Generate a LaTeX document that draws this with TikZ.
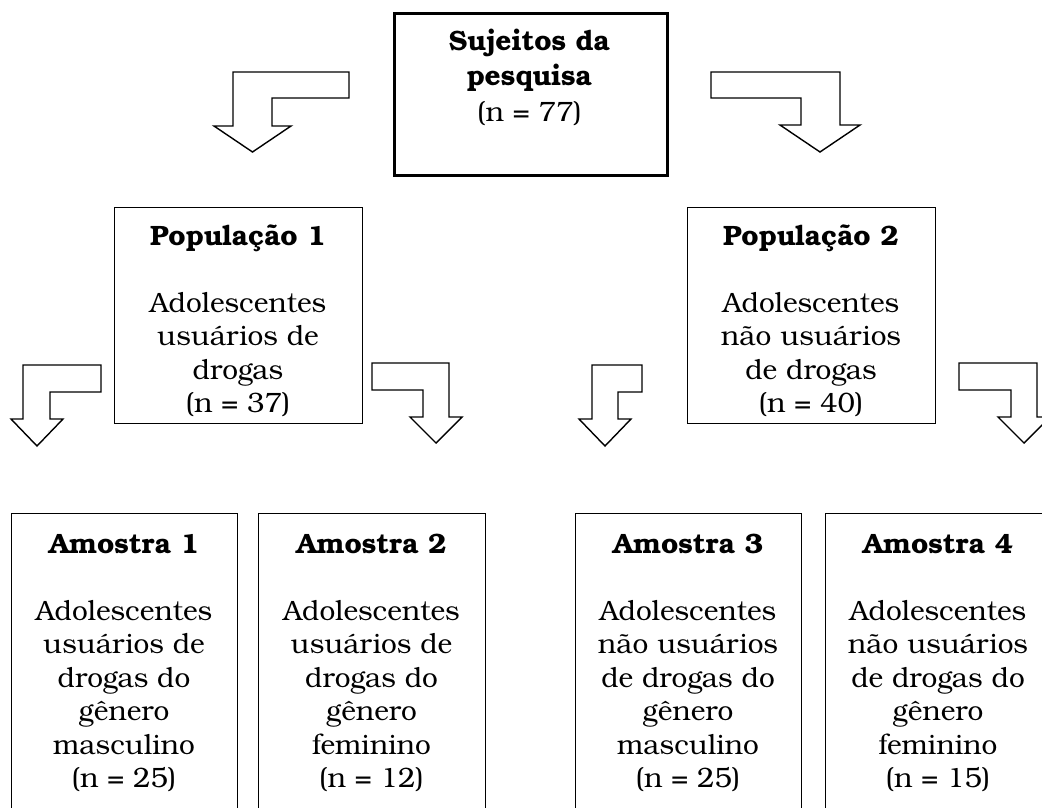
\documentclass[tikz,border=0pt]{standalone}
\usepackage{fontspec}
\setmainfont{TeX Gyre Bonum}
\newcommand\blk[1]{\parbox[t]{240pt}{\centering #1}}
\begin{document}
\begin{tikzpicture}[x=1pt,y=-1pt,
  box/.style={draw, line width=1.4pt, inner sep=0pt, anchor=north west},
  txt/.style={inner sep=0pt, anchor=base, font=\fontsize{28}{33.5}\selectfont},
  bent/.style={draw, line width=1.4pt, fill=white, line join=miter}]
\useasboundingbox (0,0) rectangle (1042,807);
\clip (0,0) rectangle (1042,807);

% top box
\node[box, line width=3pt, minimum width=273pt, minimum height=162pt] (top) at (393,12) {};
\node[txt, font=\fontsize{28}{35.5}\selectfont] (ttop) at (529.5,50) {\blk{\textbf{Sujeitos da}\\\textbf{pesquisa}\\(n = 77)}};

% population boxes
\node[box, minimum width=248pt, minimum height=216pt] (p1) at (114,207) {};
\node[txt] (tp1) at (238,245) {\blk{\textbf{População 1}\\[33.5pt]Adolescentes\\usuários de\\drogas\\(n = 37)}};
\node[box, minimum width=248pt, minimum height=216pt] (p2) at (687,207) {};
\node[txt] (tp2) at (811,245) {\blk{\textbf{População 2}\\[33.5pt]Adolescentes\\não usuários\\de drogas\\(n = 40)}};

% sample boxes (cut off at the bottom of the picture)
\node[box, minimum width=226pt, minimum height=320pt] (a1) at (11,513) {};
\node[txt] (ta1) at (124,553) {\blk{\textbf{Amostra 1}\\[33.5pt]Adolescentes\\usuários de\\drogas do\\gênero\\masculino\\(n = 25)}};
\node[box, minimum width=227pt, minimum height=320pt] (a2) at (258,513) {};
\node[txt] (ta2) at (371.5,553) {\blk{\textbf{Amostra 2}\\[33.5pt]Adolescentes\\usuários de\\drogas do\\gênero\\feminino\\(n = 12)}};
\node[box, minimum width=226pt, minimum height=320pt] (a3) at (575,513) {};
\node[txt] (ta3) at (688,553) {\blk{\textbf{Amostra 3}\\[33.5pt]Adolescentes\\não usuários\\de drogas do\\gênero\\masculino\\(n = 25)}};
\node[box, minimum width=226pt, minimum height=320pt] (a4) at (825,513) {};
\node[txt] (ta4) at (938,553) {\blk{\textbf{Amostra 4}\\[33.5pt]Adolescentes\\não usuários\\de drogas do\\gênero\\feminino\\(n = 15)}};

% bent block arrows
\draw[bent] (349,72) -- (233,72) -- (233,126) -- (214,126) -- (252.5,152) -- (291,126) -- (272,126) -- (272,98) -- (349,98) -- cycle;
\draw[bent] (711,72) -- (840,72) -- (840,125) -- (860,125) -- (820,152) -- (780,125) -- (801,125) -- (801,98) -- (711,98) -- cycle;

\draw[bent] (101,365) -- (23,365) -- (23,419) -- (11,419) -- (37,446) -- (63,419) -- (50,419) -- (50,392) -- (101,392) -- cycle;
\draw[bent] (372,363) -- (449,363) -- (449,417) -- (462,417) -- (436,443) -- (410,417) -- (423,417) -- (423,390) -- (372,390) -- cycle;
\draw[bent] (642,365) -- (592,365) -- (592,419) -- (579,419) -- (605,446) -- (631,419) -- (618,419) -- (618,392) -- (642,392) -- cycle;
\draw[bent] (959,363) -- (1037,363) -- (1037,417) -- (1050,417) -- (1024,443) -- (998,417) -- (1011,417) -- (1011,390) -- (959,390) -- cycle;
\end{tikzpicture}
\end{document}
